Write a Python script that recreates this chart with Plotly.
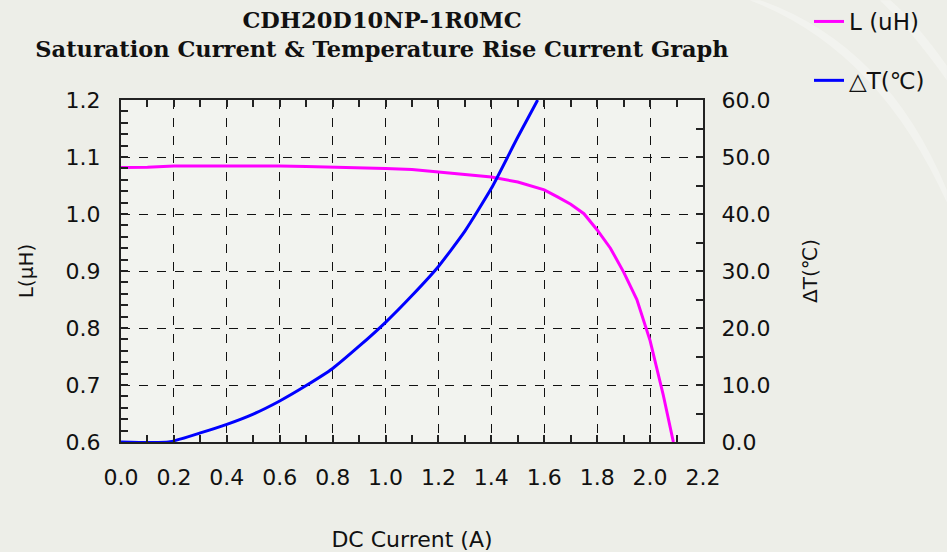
import plotly.graph_objects as go

# ---- data ----
current_L = [0.0, 0.1, 0.2, 0.3, 0.4, 0.5, 0.6, 0.7, 0.8, 0.9, 1.0, 1.1, 1.2, 1.3, 1.4,
             1.5, 1.6, 1.65, 1.7, 1.75, 1.8, 1.85, 1.9, 1.95, 2.0, 2.05, 2.088]
inductance = [1.0815, 1.082, 1.084, 1.0844, 1.0844, 1.0844, 1.0844, 1.0835, 1.0822, 1.0822,
              1.080, 1.078, 1.0734, 1.070, 1.065, 1.056, 1.0424, 1.030, 1.017, 1.0005,
              0.972, 0.940, 0.898, 0.850, 0.778, 0.682, 0.600]

current_T = [0.0, 0.18, 0.3, 0.4, 0.5, 0.6, 0.7, 0.8, 0.9, 1.0, 1.1, 1.2, 1.3, 1.4, 1.5, 1.575]
temp_rise = [0.0, 0.0, 1.6, 3.1, 4.9, 7.2, 9.9, 12.9, 16.8, 21.0, 25.7, 30.8, 37.0, 44.5, 53.5, 60.0]

x_ticks = [0.0, 0.2, 0.4, 0.6, 0.8, 1.0, 1.2, 1.4, 1.6, 1.8, 2.0, 2.2]
y_ticks = [0.6, 0.7, 0.8, 0.9, 1.0, 1.1, 1.2]
y2_ticks = [0, 10, 20, 30, 40, 50, 60]

title_lines = ["CDH20D10NP-1R0MC", "Saturation Current & Temperature Rise Current Graph"]
y2_title = "ΔT(℃)"

SANS = "DejaVu Sans, Arial, sans-serif"
SERIF = "DejaVu Serif, Liberation Serif, serif"

fig = go.Figure()
fig.add_trace(go.Scatter(x=current_L, y=inductance, mode="lines", name="L (uH)",
                         line=dict(color="#ff00ff", width=3), legendgroup="a"))
fig.add_trace(go.Scatter(x=current_T, y=temp_rise, mode="lines", name="△T(℃)",
                         line=dict(color="#0000ff", width=3, shape="spline", smoothing=0.5),
                         yaxis="y2", legendgroup="b"))

axis_common = dict(showline=True, linecolor="#222222", linewidth=2, automargin=False,
                   ticks="inside", ticklen=7, tickcolor="#222222", tickwidth=1.5,
                   zeroline=False, tickfont=dict(family=SANS, size=22, color="#111111"))

# decorative light streaks in the top-right background
streaks = [
    dict(type="path", xref="paper", yref="paper", layer="below",
         path="M 1.098 1.292 Q 1.3155 1.1615 1.419 0.737 L 1.419 0.70 Q 1.300 1.15 1.080 1.292 Z",
         fillcolor="rgba(255,255,255,0.30)", line=dict(width=0)),
    dict(type="path", xref="paper", yref="paper", layer="below",
         path="M 1.304 1.292 Q 1.36 1.2 1.419 1.058 L 1.419 1.10 Q 1.37 1.22 1.322 1.292 Z",
         fillcolor="rgba(255,255,255,0.30)", line=dict(width=0)),
]

fig.update_layout(
    width=947, height=552,
    margin=dict(l=121, r=244, t=100, b=110),
    paper_bgcolor="#edeee8",
    plot_bgcolor="#f2f3ef",
    shapes=streaks,
    title=dict(text="<b>" + title_lines[0] + "</b><br><b>" + title_lines[1] + "</b>",
               x=382 / 947, xanchor="center", xref="container",
               y=0.95, yanchor="top", yref="container",
               font=dict(family=SERIF, size=22.5, color="#111111")),
    xaxis=dict(range=[0, 2.2], tickvals=x_ticks, ticktext=[f"{v:.1f}" for v in x_ticks],
               showgrid=True, gridcolor="#111111", gridwidth=1, griddash="dash",
               mirror="allticks", ticklabelstandoff=15,
               minor=dict(ticks="inside", dtick=0.1, ticklen=6, tickcolor="#222222", showgrid=False),
               title=dict(text="DC Current (A)", font=dict(family=SANS, size=22, color="#111111"),
                          standoff=47),
               **axis_common),
    yaxis=dict(range=[0.6, 1.2], tickvals=y_ticks, ticktext=[f"{v:.1f}" for v in y_ticks],
               showgrid=True, gridcolor="#111111", gridwidth=1, griddash="dash",
               ticklabelstandoff=14,
               minor=dict(ticks="inside", dtick=0.02, ticklen=7, tickcolor="#222222", showgrid=False),
               title=dict(text="L(μH)", font=dict(family=SANS, size=20, color="#111111"),
                          standoff=27),
               **axis_common),
    yaxis2=dict(range=[0, 60], tickvals=y2_ticks, ticktext=[f"{v:.1f}" for v in y2_ticks],
                overlaying="y", side="right", showgrid=False, ticklabelstandoff=12,
                minor=dict(ticks="inside", dtick=5, ticklen=7, tickcolor="#222222", showgrid=False),
                **axis_common),
    annotations=[dict(text=y2_title, textangle=-90, xref="paper", yref="paper",
                      x=(810 - 121) / 582, y=0.5, xanchor="center", yanchor="middle",
                      showarrow=False, font=dict(family=SANS, size=20, color="#111111"))],
    legend=dict(x=809 / 947, xref="container", xanchor="left",
                y=1.012, yref="container", yanchor="top",
                bgcolor="rgba(0,0,0,0)", traceorder="grouped", tracegroupgap=26,
                font=dict(family=SANS, size=23, color="#111111")),
    showlegend=True,
)

fig.write_html("out.html", post_script="document.body.style.margin='0';",
               config={"displayModeBar": False})
